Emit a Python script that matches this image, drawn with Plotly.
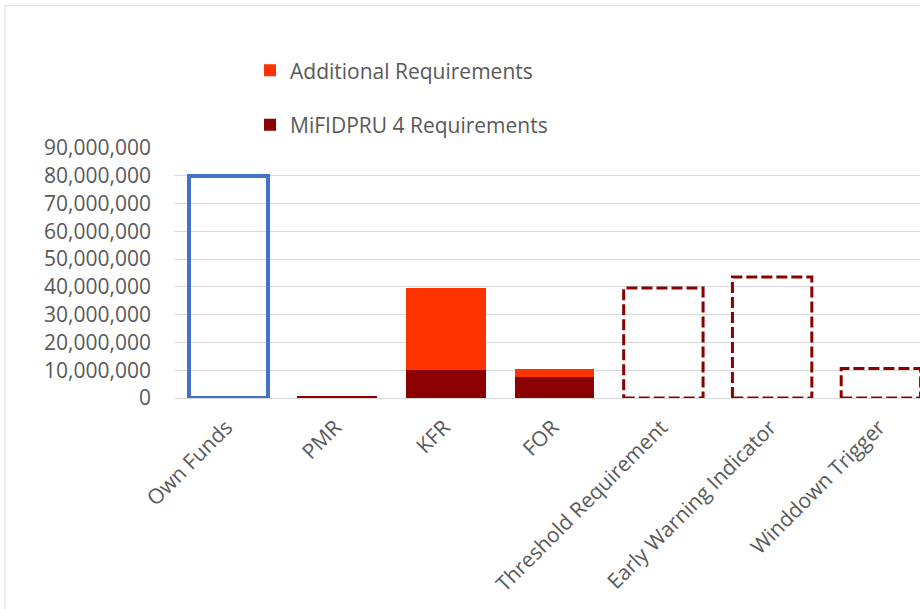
import plotly.graph_objects as go

categories = ["Own Funds", "PMR", "KFR", "FOR", "Threshold Requirement",
              "Early Warning Indicator", "Winddown Trigger"]
own_funds = [80_000_000, None, None, None, None, None, None]
mifidpru4 = [None, 500_000, 10_000_000, 7_400_000, None, None, None]
additional = [None, None, 29_600_000, 3_100_000, None, None, None]
thresholds = [None, None, None, None, 39_600_000, 43_600_000, 10_600_000]
y_ticks = [0, 10_000_000, 20_000_000, 30_000_000, 40_000_000, 50_000_000,
           60_000_000, 70_000_000, 80_000_000, 90_000_000]

TEXT = "#595959"
FONT = "Open Sans"
FS = 21
BARGAP = 0.27

fig = go.Figure()
fig.add_trace(go.Bar(x=categories, y=own_funds, name="Own Funds", showlegend=False,
                     marker=dict(color="rgba(0,0,0,0)", line=dict(color="#4472C4", width=4))))
fig.add_trace(go.Bar(x=categories, y=mifidpru4, name="MiFIDPRU 4 Requirements",
                     legendgroup="m", legendrank=2,
                     marker=dict(color="#8B0000", line=dict(width=0))))
fig.add_trace(go.Bar(x=categories, y=additional, name="Additional Requirements",
                     legendgroup="a", legendrank=1,
                     marker=dict(color="#FF3300", line=dict(width=0))))

# dashed outline boxes for the trigger levels
half = (1 - BARGAP) / 2
for i, v in enumerate(thresholds):
    if v is None:
        continue
    fig.add_shape(type="rect", xref="x", yref="y", x0=i - half, x1=i + half, y0=0, y1=v,
                  line=dict(color="#8B0000", width=3, dash="11px,4px"),
                  fillcolor="rgba(0,0,0,0)", layer="above")

L, R, T, B = 174, 920, 148, 398.5
# chart frame border
fig.add_shape(type="rect", xref="paper", yref="paper",
              x0=(5 - L) / (R - L), x1=(921 - L) / (R - L),
              y0=(B - 640) / (B - T), y1=(B - 5) / (B - T),
              line=dict(color="#D9D9D9", width=1), fillcolor="rgba(0,0,0,0)", layer="below")

fig.update_layout(
    width=920, height=609,
    margin=dict(l=L, r=920 - R, t=T, b=609 - B, pad=0),
    paper_bgcolor="white", plot_bgcolor="white",
    barmode="stack", bargap=BARGAP,
    font=dict(family=FONT, color=TEXT, size=FS),
    showlegend=True,
    legend=dict(orientation="v", x=(250 - L) / (R - L), xanchor="left",
                y=(B - 50) / (B - T), yanchor="top", traceorder="grouped",
                tracegroupgap=24, font=dict(size=FS, color=TEXT, family=FONT),
                bgcolor="rgba(0,0,0,0)"),
    xaxis=dict(type="category", range=[-0.5, -0.5 + (R - L) / 108.75], tickangle=-45,
               showgrid=False, showline=False, ticks="", zeroline=False,
               ticklabelstandoff=12, ticklabelshift=-2,
               tickfont=dict(size=FS, color=TEXT, family=FONT)),
    yaxis=dict(range=[0, 90_000_000], tickvals=y_ticks, tickformat=",", showgrid=True,
               gridcolor="#D9D9D9", gridwidth=1.3, zeroline=True, zerolinecolor="#D9D9D9",
               zerolinewidth=1.3, showline=False, ticks="", ticklabelstandoff=22,
               tickfont=dict(size=FS, color=TEXT, family=FONT)),
)

fig.write_html("out.html")
